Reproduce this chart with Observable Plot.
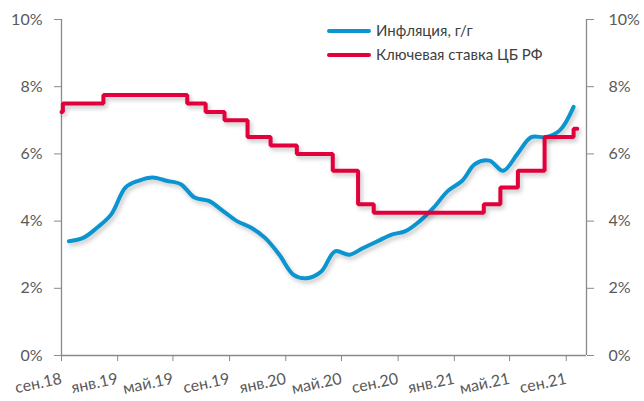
<!DOCTYPE html>
<html>
<head>
<meta charset="utf-8">
<script src="https://cdn.jsdelivr.net/npm/d3@7"></script>
<script src="https://cdn.jsdelivr.net/npm/@observablehq/plot@0.6"></script>
<style>
  html, body { margin: 0; padding: 0; background: #fff; }
  #wrap { position: relative; width: 644px; height: 401px; font-family: Lato, "Open Sans", "Noto Sans", sans-serif; }
  .lg { position: absolute; left: 327px; width: 44px; height: 4px; border-radius: 2px; }
  .lt { position: absolute; left: 376px; font-size: 15px; color: #404040; line-height: 18px; white-space: nowrap; }
</style>
</head>
<body>
<div id="wrap"></div>
<script>
// Inflation y/y, % (month-end)
const inflDates = ["2018-09-30","2018-10-31","2018-11-30","2018-12-31","2019-01-31","2019-02-28","2019-03-31","2019-04-30","2019-05-31","2019-06-30","2019-07-31","2019-08-31","2019-09-30","2019-10-31","2019-11-30","2019-12-31","2020-01-31","2020-02-29","2020-03-31","2020-04-30","2020-05-31","2020-06-30","2020-07-31","2020-08-31","2020-09-30","2020-10-31","2020-11-30","2020-12-31","2021-01-31","2021-02-28","2021-03-31","2021-04-30","2021-05-31","2021-06-30","2021-07-31","2021-08-31","2021-09-30"];
const inflValues = [3.4,3.5,3.8,4.2,5.0,5.2,5.3,5.2,5.1,4.7,4.6,4.3,4.0,3.8,3.5,3.0,2.4,2.3,2.5,3.1,3.0,3.2,3.4,3.6,3.7,4.0,4.4,4.9,5.2,5.7,5.8,5.5,6.0,6.5,6.5,6.7,7.4];

// Key rate, % (step changes)
const rateDates = ["2018-09-14","2018-09-17","2018-12-14","2019-06-14","2019-07-24","2019-09-03","2019-10-23","2019-12-12","2020-02-07","2020-04-25","2020-06-19","2020-07-23","2021-03-19","2021-04-24","2021-06-01","2021-07-29","2021-09-30","2021-10-08"];
const rateValues = [7.25,7.5,7.75,7.5,7.25,7.0,6.5,6.25,6.0,5.5,4.5,4.25,4.5,5.0,5.5,6.5,6.75,6.75];

const xTickDates = ["2018-09-14","2019-01-14","2019-05-14","2019-09-14","2020-01-14","2020-05-14","2020-09-14","2021-01-14","2021-05-14","2021-09-14"];
const yTicks = [0, 2, 4, 6, 8, 10];
const monthNames = ["янв","фев","мар","апр","май","июн","июл","авг","сен","окт","ноя","дек"];
const legendLabels = ["Инфляция, г/г", "Ключевая ставка ЦБ РФ"];
const colors = ["#0a94d0", "#e1003c"];

const xDomain = [new Date("2018-09-14"), new Date("2021-10-28")];
const infl = inflDates.map((d, i) => ({date: new Date(d), value: inflValues[i]}));
const rate = rateDates.map((d, i) => ({date: new Date(d), value: rateValues[i]}));
const xTicks = xTickDates.map(d => new Date(d));
const fmtX = d => monthNames[d.getUTCMonth()] + "." + String(d.getUTCFullYear()).slice(2);
const axisStroke = "#8a8a8a";

const chart = Plot.plot({
  width: 644,
  height: 401,
  marginLeft: 61,
  marginRight: 58,
  marginTop: 19,
  marginBottom: 46,
  style: {fontFamily: 'Lato, "Open Sans", "Noto Sans", sans-serif', color: "#595959", background: "white", overflow: "visible"},
  x: {type: "utc", domain: xDomain},
  y: {domain: [0, 10]},
  marks: [
    Plot.axisY({anchor: "left", ticks: yTicks, tickFormat: d => d + "%", tickSize: 7, tickPadding: 12, fontSize: 16, stroke: axisStroke, label: null}),
    Plot.axisY({anchor: "right", ticks: yTicks, tickFormat: d => d + "%", tickSize: 7, tickPadding: 15, fontSize: 16, stroke: axisStroke, label: null}),
    Plot.axisX({ticks: xTicks, tickFormat: fmtX, tickRotate: -12, tickSize: 6, tickPadding: 17, fontSize: 16, stroke: axisStroke, label: null}),
    Plot.ruleX([xDomain[0]], {y1: 0, y2: 10, stroke: axisStroke, strokeWidth: 1.3}),
    Plot.ruleX([xDomain[1]], {y1: 0, y2: 10, stroke: axisStroke, strokeWidth: 1.3}),
    Plot.ruleY([0], {stroke: axisStroke, strokeWidth: 1.3}),
    Plot.line(infl, {x: "date", y: "value", stroke: colors[0], strokeWidth: 4, curve: "catmull-rom"}),
    Plot.line(rate, {x: "date", y: "value", stroke: colors[1], strokeWidth: 4, curve: "step-after", strokeLinejoin: "miter"})
  ]
});

chart.querySelectorAll('g[aria-label="line"]').forEach(g => {
  g.style.filter = "drop-shadow(2px 3px 2px rgba(0,0,0,0.22))";
});

const wrap = document.getElementById("wrap");
wrap.appendChild(chart);
const legendY = [30.7, 55];
legendLabels.forEach((t, i) => {
  const l = document.createElement("div");
  l.className = "lg";
  l.style.top = (legendY[i] - 2) + "px";
  l.style.background = colors[i];
  wrap.appendChild(l);
  const tx = document.createElement("div");
  tx.className = "lt";
  tx.style.top = (legendY[i] - 10) + "px";
  tx.textContent = t;
  wrap.appendChild(tx);
});
</script>
</body>
</html>
